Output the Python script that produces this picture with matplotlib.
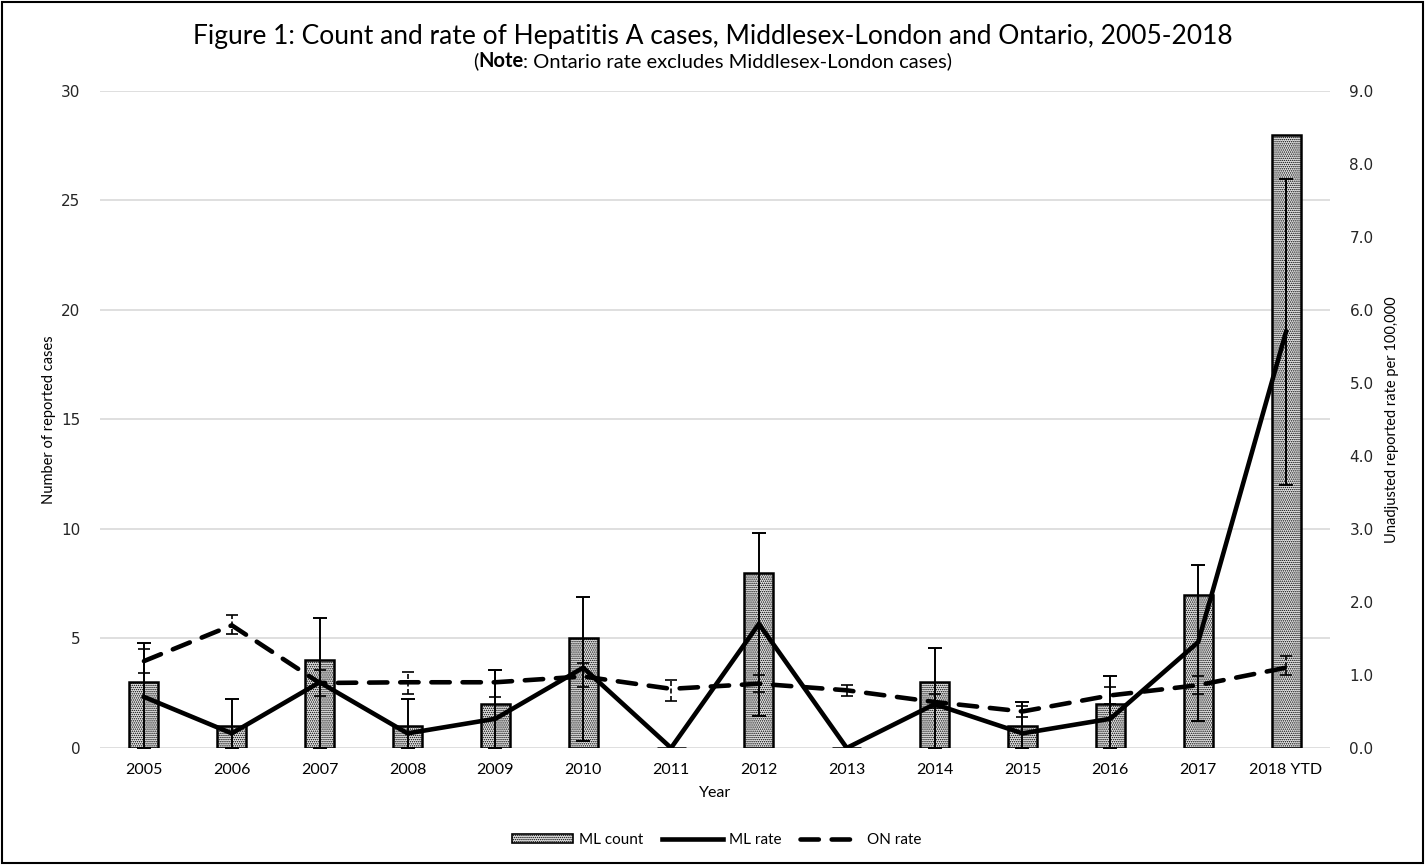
import numpy as np
import matplotlib
matplotlib.use('Agg')
import matplotlib.pyplot as plt
from matplotlib.patches import Patch, Rectangle
from matplotlib.lines import Line2D

# data
years = ['2005', '2006', '2007', '2008', '2009', '2010', '2011',
         '2012', '2013', '2014', '2015', '2016', '2017', '2018 YTD']
ml_count = [3, 1, 4, 1, 2, 5, 0, 8, 0, 3, 1, 2, 7, 28]
ml_rate = [0.7, 0.2, 0.9, 0.2, 0.4, 1.1, 0.0, 1.7, 0.0, 0.6, 0.2, 0.4, 1.45, 5.7]
ml_lo = [0.0, 0.0, 0.0, 0.0, 0.0, 0.10, np.nan, 0.44, np.nan, 0.0, 0.0, 0.0, 0.37, 3.6]
ml_hi = [1.44, 0.67, 1.78, 0.67, 1.07, 2.07, np.nan, 2.95, np.nan, 1.37, 0.63, 0.99, 2.50, 7.79]
on_rate = [1.19, 1.68, 0.89, 0.9, 0.9, 0.98, 0.81, 0.88, 0.79, 0.63, 0.5, 0.72, 0.86, 1.1]
on_lo = [1.03, 1.56, 0.71, 0.74, 0.70, 0.84, 0.65, 0.77, 0.71, 0.55, 0.42, 0.60, 0.74, 1.00]
on_hi = [1.36, 1.82, 1.07, 1.04, 1.07, 1.16, 0.93, 1.00, 0.86, 0.74, 0.58, 0.84, 0.98, 1.26]

plt.rcParams['hatch.linewidth'] = 0.7
calibri = ['Lato', 'DejaVu Sans']
barface = '#e6e6e6'

fig = plt.figure(figsize=(14.25, 8.65), dpi=100)
ax = fig.add_axes([0.0702, 0.1353, 0.8631, 0.7595])
x = np.arange(len(years))

####Bars (left axis)
ax.bar(x, ml_count, width=0.33, facecolor=barface, edgecolor='black',
       linewidth=1.8, hatch='........', zorder=2)
ax.set_ylim(0, 30)
ax.set_xlim(-0.5, len(years) - 0.5)
ax.set_yticks(range(0, 31, 5))
ax.grid(axis='y', color='#d9d9d9', linewidth=1.2, zorder=0)
ax.set_axisbelow(True)
for s in ax.spines.values():
    s.set_visible(False)
ax.tick_params(length=0)
ax.tick_params(axis='y', labelsize=11, pad=14, labelcolor='#262626')
ax.set_xticks(x)
ax.set_xticklabels(years, fontsize=11.5, family=calibri)
ax.tick_params(axis='x', pad=11)
ax.set_xlabel('Year', fontsize=11.5, family=calibri, labelpad=6)
ax.set_ylabel('Number of reported cases', fontsize=10.5, family=calibri, labelpad=4)

####Rates (right axis)
ax2 = ax.twinx()
ax2.set_ylim(0, 9)
ax2.set_yticks(np.arange(0, 9.1, 1.0))
ax2.set_yticklabels(['%.1f' % v for v in np.arange(0, 9.1, 1.0)])
for s in ax2.spines.values():
    s.set_visible(False)
ax2.tick_params(length=0, labelsize=11, pad=14, labelcolor='#262626')
ax2.set_ylabel('Unadjusted reported rate per 100,000', fontsize=10.5, family=calibri, labelpad=8)

ml_rate_a = np.array(ml_rate)
ml_err = [ml_rate_a - np.array(ml_lo), np.array(ml_hi) - ml_rate_a]
ax2.errorbar(x, ml_rate, yerr=ml_err, fmt='none', ecolor='black',
             elinewidth=1.4, capsize=5, capthick=1.4, zorder=3)

on_rate_a = np.array(on_rate)
on_err = [on_rate_a - np.array(on_lo), np.array(on_hi) - on_rate_a]
eb = ax2.errorbar(x, on_rate, yerr=on_err, fmt='none', ecolor='black',
                  elinewidth=1.2, capsize=4, capthick=1.2, zorder=3)
eb[2][0].set_linestyle((0, (3, 1.5)))

ax2.plot(x, ml_rate, color='black', linewidth=3.3, solid_joinstyle='miter', zorder=4)
ax2.plot(x, on_rate, color='black', linewidth=3.3, dashes=(4, 2.8),
         dash_capstyle='round', zorder=4)

####Title
fig.text(0.5, 0.958, 'Figure 1: Count and rate of Hepatitis A cases, Middlesex-London and Ontario, 2005-2018',
         ha='center', va='center', fontsize=19, family=calibri)

# subtitle with bold "Note"
parts = [('(', 'normal'), ('Note', 'bold'), (': Ontario rate excludes Middlesex-London cases)', 'normal')]
renderer = fig.canvas.get_renderer()
texts = []
for s, w in parts:
    t = fig.text(0, 0.929, s, ha='left', va='center', fontsize=14.5, family=calibri, weight=w)
    texts.append(t)
widths = [t.get_window_extent(renderer).width for t in texts]
xpos = (fig.bbox.width - sum(widths)) / 2.0
for t, wd in zip(texts, widths):
    t.set_x(xpos / fig.bbox.width)
    xpos += wd

####Legend
handles = [Patch(facecolor=barface, edgecolor='black', hatch='........', linewidth=1.2),
           Line2D([0], [0], color='black', linewidth=3.3),
           Line2D([0], [0], color='black', linewidth=3.3, dashes=(4, 2.8), dash_capstyle='round')]
fig.legend(handles, ['ML count', 'ML rate', 'ON rate'], loc='center',
           bbox_to_anchor=(0.503, 0.029), ncol=3, frameon=False,
           prop={'family': calibri, 'size': 11}, handlelength=4.0, handleheight=0.5,
           columnspacing=1.2, handletextpad=0.4)

# border around the whole chart
fig.patches.append(Rectangle((0.0015, 0.002), 0.997, 0.996, transform=fig.transFigure,
                             fill=False, edgecolor='black', linewidth=1.5))

plt.savefig('out.png', dpi=100)
plt.close()
